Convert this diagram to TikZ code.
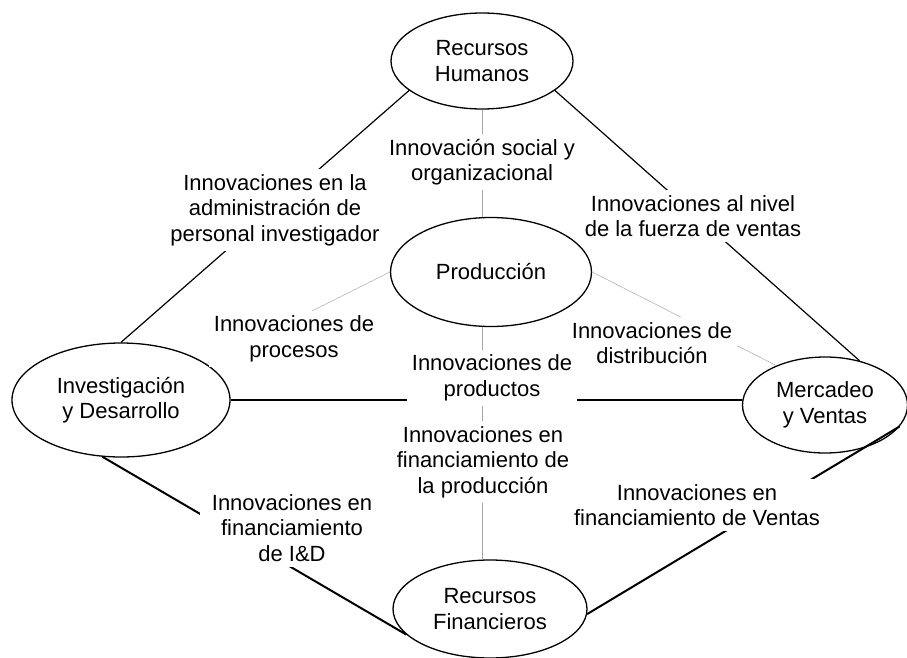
\documentclass[tikz,border=0pt]{standalone}
\usepackage{fontspec}
\setmainfont{Liberation Sans}
\usetikzlibrary{shapes.geometric}

\begin{document}
\begin{tikzpicture}[x=1pt, y=-1pt,
    area/.style={ellipse, draw, line width=1.3pt, inner sep=0pt, align=center,
                 font=\fontsize{22}{25.5}\selectfont},
    innov/.style={fill=white, inner sep=5pt, align=center,
                  font=\fontsize{22}{25.5}\selectfont},
    enlace/.style={line width=1.2pt},
    enlacefuerte/.style={line width=2pt},
    enlacefino/.style={line width=0.5pt, gray!70}]
    \useasboundingbox (0,0) rectangle (907,658);

    % Areas of the firm
    \node[area, minimum width=182, minimum height=96] (rh) at (482,61) {Recursos\\Humanos};
    \node[area, minimum width=201, minimum height=109] (prod) at (491,272) {Producción};
    \node[area, minimum width=218, minimum height=114] (id) at (121,400) {Investigación\\y Desarrollo};
    \node[area, minimum width=165, minimum height=96] (mv) at (825,405) {Mercadeo\\y Ventas};
    \node[area, minimum width=194, minimum height=98] (rf) at (490,609) {Recursos\\Financieros};

    % Links between the areas
    \draw[enlace] (rh.202) -- (id.north);
    \draw[enlace] (rh.-22) -- (mv.52);
    \draw[enlacefino] (rh.south) -- (rh.south |- prod.north);
    \draw[enlacefino] (prod.west) -- (id.23);
    \draw[enlacefino] (prod.east) -- (mv.141);
    \draw[enlacefino] (rh.south |- prod.south) -- (rh.south |- rf.north);
    \draw[enlacefuerte] (id.east) -- (id.east -| mv.west);
    \draw[enlacefuerte] (id.252) -- (rf.197);
    \draw[enlacefuerte] (mv.-16) -- (rf.-3);

    % Kinds of innovation on each link
    \node[innov] (admin) at (275,210) {Innovaciones en la\\administración de\\personal investigador};
    \node[innov] (social) at (482,162) {Innovación social y\\organizacional};
    \node[innov] (fuerza) at (693,216) {Innovaciones al nivel\\de la fuerza de ventas};
    \node[innov] (procesos) at (294,339) {Innovaciones de\\procesos};
    \node[innov] (distrib) at (652,343) {Innovaciones de\\distribución};
    \node[innov] (productos) at (492,378) {Innovaciones de\\productos};
    \node[innov] (finprod) at (483,462) {Innovaciones en\\financiamiento de\\la producción};
    \node[innov, inner xsep=12pt] (finid) at (292,528) {Innovaciones en\\financiamiento\\de I\&D};
    \node[innov] (finventas) at (697,505) {Innovaciones en\\financiamiento de Ventas};

\end{tikzpicture}
\end{document}
